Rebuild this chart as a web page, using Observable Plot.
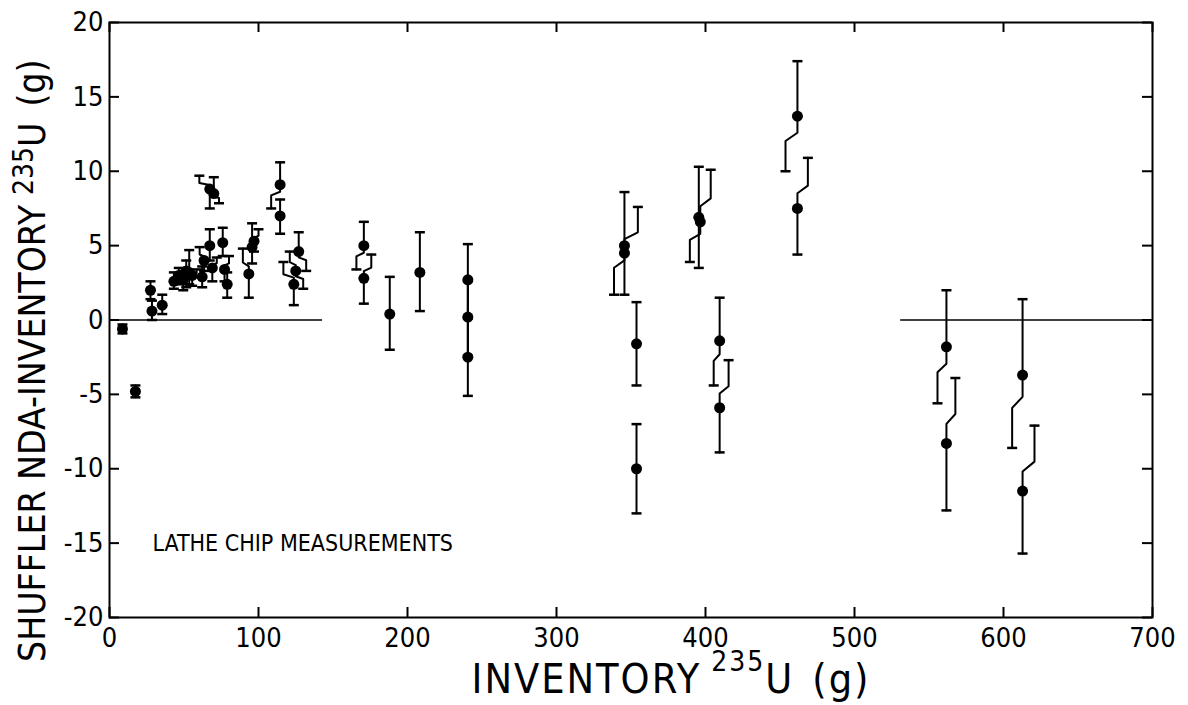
<!DOCTYPE html>
<html><head><meta charset="utf-8">
<script src="https://cdn.jsdelivr.net/npm/d3@7"></script>
<script src="https://cdn.jsdelivr.net/npm/@observablehq/plot@0.6"></script>
<style>body{margin:0;background:#fff;} svg{display:block}</style>
</head><body><div id="chart"></div>
<script>
// Inventory 235U (g)
const inventory = [8.7,17.4,27.5,28.5,35.4,43.2,46.5,49.5,51.5,53.5,55.5,62.2,63.5,67.3,69.0,67.3,70.0,76.0,77.2,79.0,93.5,95.7,97.0,114.5,114.5,127.0,125.0,123.7,170.7,170.7,188.1,208.3,240.5,240.5,240.5,345.6,345.6,353.7,353.7,395.5,396.5,409.5,409.5,461.7,461.7,561.7,561.7,612.8,612.8];
// Shuffler NDA - inventory (g)
const difference = [-0.6,-4.8,2.0,0.6,1.0,2.6,3.0,2.7,3.3,3.2,3.0,2.9,4.0,5.0,3.5,8.8,8.5,5.2,3.4,2.4,3.1,4.9,5.3,9.1,7.0,4.6,3.3,2.4,5.0,2.8,0.4,3.2,2.7,0.2,-2.5,5.0,4.5,-1.6,-10.0,6.9,6.6,-1.4,-5.9,13.7,7.5,-1.8,-8.3,-3.7,-11.5];
// error bar ends
const lower = [-0.9,-5.2,1.4,0.0,0.4,2.1,2.4,2.0,2.2,2.4,2.3,2.2,3.3,4.0,2.6,7.5,7.85,4.3,2.6,1.5,1.5,3.8,4.6,7.5,5.8,3.3,2.1,1.0,3.4,1.1,-2.0,0.6,0.2,-2.4,-5.1,1.7,1.7,-4.4,-13.0,3.5,3.9,-4.4,-8.9,10.0,4.4,-5.6,-12.8,-8.6,-15.7];
const upper = [-0.3,-4.4,2.6,1.3,1.7,3.2,3.5,3.3,4.0,4.7,3.4,3.6,4.9,6.1,4.2,9.7,9.6,6.2,4.3,3.2,4.8,6.5,6.1,10.6,8.1,5.9,4.6,3.9,6.6,4.4,2.9,5.9,5.1,2.6,0.1,8.6,7.6,1.2,-7.0,10.3,10.1,1.5,-2.7,17.4,10.9,2.0,-3.9,1.4,-7.1];
// sideways displacement of error bar ends (g of inventory), as drawn to avoid overlap
const jogLower = [0,0,0,0,0,0,0,0,0,0,0,0,0,0,0,0,3.5,0,0,0,0,0,0,-6,0,5,5,0,-5,0,0,0,0,0,0,-7,0,0,0,0,-7,-4,0,-8,0,-6,0,-7,0];
const jogUpper = [0,0,0,0,0,0,0,0,0,0,3,0,-3,0,3,-7,0,0,3,0,-4,0,3,0,0,0,-4,-7,0,5,0,0,0,0,0,0,9,0,0,0,7,0,6,0,7,0,6,0,8];
const xTicks = [0,100,200,300,400,500,600,700];
const yTicks = [-20,-15,-10,-5,0,5,10,15,20];
const zeroLineFrom = [0, 531];
const zeroLineTo = [143, 700];
const annotation = ["LATHE CHIP MEASUREMENTS"];

const points = inventory.map((x,i)=>({x, y: difference[i], lo: lower[i], hi: upper[i], dLo: jogLower[i], dHi: jogUpper[i]}));
const bars = [], caps = [];
points.forEach((p,i)=>{
  for (const [end, d, key] of [[p.lo,p.dLo,"lo"],[p.hi,p.dHi,"hi"]]) {
    const id = i + key;
    const path = d ? [[p.x,p.y],[p.x,p.y+0.3*(end-p.y)],[p.x+d,p.y+0.45*(end-p.y)],[p.x+d,end]] : [[p.x,p.y],[p.x,end]];
    path.forEach(([x,y])=>bars.push({id,x,y}));
    caps.push({x:p.x+d, y:end});
  }
});
const segs = zeroLineFrom.map((a,i)=>({a, b: zeroLineTo[i]}));

const W=1188, H=705, mL=109, mR=36, mT=22, mB=88, tk=10;
const FONT = "'DejaVu Sans Condensed','DejaVu Sans',sans-serif";
const capSymbol = {draw(ctx,size){const r=Math.sqrt(size/Math.PI); ctx.moveTo(-r,0); ctx.lineTo(r,0);}};
const fmt = d => String(d);

const plot = Plot.plot({
  width:W, height:H, marginLeft:mL, marginRight:mR, marginTop:mT, marginBottom:mB,
  style:{fontFamily:FONT, fontSize:"27px", color:"#000", background:"#fff"},
  x:{domain:[0,700]}, y:{domain:[-20,20]},
  marks:[
    Plot.frame({stroke:"#000", strokeWidth:2}),
    Plot.axisX({ticks:xTicks, tickSize:0, tickPadding:10, tickFormat:fmt, label:null}),
    Plot.axisY({ticks:yTicks, tickSize:0, tickPadding:6, tickFormat:fmt, label:null}),
    Plot.tickX(xTicks,{x:d=>d, insetTop:H-mT-mB-tk, stroke:"#000", strokeWidth:2}),
    Plot.tickX(xTicks,{x:d=>d, insetBottom:H-mT-mB-tk, stroke:"#000", strokeWidth:2}),
    Plot.tickY(yTicks,{y:d=>d, insetRight:W-mL-mR-tk, stroke:"#000", strokeWidth:2}),
    Plot.tickY(yTicks,{y:d=>d, insetLeft:W-mL-mR-tk, stroke:"#000", strokeWidth:2}),
    Plot.ruleY(segs,{y:0, x1:"a", x2:"b", stroke:"#000", strokeWidth:1.5}),
    Plot.line(bars,{x:"x", y:"y", z:"id", stroke:"#000", strokeWidth:2}),
    Plot.dot(caps,{x:"x", y:"y", r:5, symbol:capSymbol, stroke:"#000", strokeWidth:2.5, fill:"none"}),
    Plot.dot(points,{x:"x", y:"y", r:5.5, fill:"#000"}),
    Plot.text(annotation,{text:d=>d, frameAnchor:"bottom-left", dx:43, dy:-67, fontSize:23, fill:"#000"})
  ]
});
document.getElementById("chart").append(plot);

const svg = d3.select(plot);
const yl = svg.append("text").attr("transform","translate(45,662) rotate(-90)")
  .attr("text-anchor","start").attr("font-family",FONT).attr("font-size",37).attr("fill","#000");
yl.append("tspan").text("SHUFFLER NDA-INVENTORY");
yl.append("tspan").attr("font-size",28).attr("dx",10).attr("dy",-12).text("235");
yl.append("tspan").attr("dy",12).text("U");
yl.append("tspan").attr("dx",16).text("(g)");

const xl = svg.append("text").attr("x",671).attr("y",693).attr("text-anchor","middle")
  .attr("font-family",FONT).attr("font-size",41).attr("letter-spacing",2).attr("fill","#000");
xl.append("tspan").text("INVENTORY");
xl.append("tspan").attr("font-size",28).attr("dx",10).attr("dy",-22).text("235");
xl.append("tspan").attr("dy",22).text("U");
xl.append("tspan").attr("dx",18).text("(g)");
</script>
</body></html>
